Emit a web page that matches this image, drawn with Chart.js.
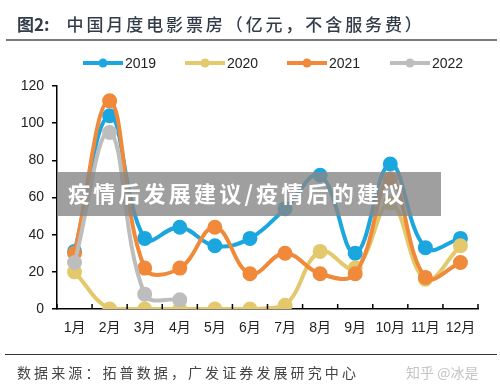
<!DOCTYPE html>
<html><head><meta charset="utf-8">
<script src="https://cdn.jsdelivr.net/npm/chart.js@4"></script>
<style>
html,body{margin:0;padding:0;background:#fff;}
#wrap{position:relative;width:500px;height:389px;overflow:hidden;font-family:"Liberation Sans","Noto Sans CJK SC",sans-serif;}
canvas{position:absolute;left:0;top:0;}
.t{position:absolute;white-space:nowrap;}
</style></head><body>
<div id="wrap">
<canvas id="c" width="500" height="389"></canvas>
<div class="t" style="left:17px;top:11px;font-size:17px;color:#333d4a;font-family:'Noto Sans CJK SC',sans-serif;"><b>图2:</b><span style="margin-left:17px;letter-spacing:2.9px;font-weight:500;">中国月度电影票房（亿元，不含服务费）</span></div>
<div style="position:absolute;left:6px;top:39px;width:491px;height:2px;background:#7a7a7a;"></div>
<div style="position:absolute;left:57px;top:172px;width:384px;height:44px;background:rgba(135,135,135,0.8);"></div>
<div class="t" style="left:68px;top:176px;font-size:22px;font-weight:bold;color:#fff;letter-spacing:3.2px;font-family:'Noto Sans CJK SC',sans-serif;">疫情后发展建议/疫情后的建议</div>
<div style="position:absolute;left:5px;top:354px;width:492px;height:1px;background:#333;"></div>
<div class="t" style="left:17px;top:362px;font-size:14px;color:#444;letter-spacing:3.1px;font-family:'Noto Sans CJK SC',sans-serif;">数据来源：拓普数据，广发证券发展研究中心</div>
<div class="t" style="left:406px;top:362px;font-size:14px;color:#c4c4c4;font-family:'Noto Sans CJK SC',sans-serif;">知乎 @冰是</div>
</div>
<script>
const months = ['1月','2月','3月','4月','5月','6月','7月','8月','9月','10月','11月','12月'];
const seriesNames = ['2019','2020','2021','2022'];
const v2019 = [31,104,38,44,34,38,54,72,30,78,33,38];
const v2020 = [20,0,0,0,0,0,2,31,22,57,16,34];
const v2021 = [30,112,22,22,44,19,30,19,19,70,17,25];
const v2022 = [25,95,8,5,null,null,null,null,null,null,null,null];
const yTicks = [0,20,40,60,80,100,120];
const colors = ['#1ba6e0','#e3c96c','#f08a3a','#bdbdbd'];
const values = [v2019,v2020,v2021,v2022];

const datasets = values.map((d,i)=>({
  label: seriesNames[i], data: d,
  borderColor: colors[i], backgroundColor: colors[i],
  borderWidth: 4, pointRadius: 5.5, pointHoverRadius: 5.5,
  tension: 0.4, order: 4-i, spanGaps:false
}));

const extras = {
  id:'extras',
  afterDraw(chart){
    const ctx = chart.ctx, xs = chart.scales.x;
    const n = months.length;
    const step = (xs.right - xs.left)/n;
    ctx.save();
    ctx.strokeStyle = '#000'; ctx.lineWidth = 1.5;
    for(let i=0;i<=n;i++){
      const x = xs.left + i*step;
      ctx.beginPath(); ctx.moveTo(x, xs.top); ctx.lineTo(x, xs.top-5); ctx.stroke();
    }
    const lx = [83,185,287,390], ly = 63;
    ctx.font = '14px "Liberation Sans", sans-serif';
    ctx.textBaseline = 'middle';
    seriesNames.forEach((s,i)=>{
      ctx.strokeStyle = colors[i]; ctx.fillStyle = colors[i]; ctx.lineWidth = 4;
      ctx.beginPath(); ctx.moveTo(lx[i], ly); ctx.lineTo(lx[i]+40, ly); ctx.stroke();
      ctx.beginPath(); ctx.arc(lx[i]+20, ly, 4.5, 0, Math.PI*2); ctx.fill();
      ctx.fillStyle = '#222';
      ctx.fillText(s, lx[i]+42, ly+1);
    });
    ctx.restore();
  }
};

new Chart(document.getElementById('c'), {
  type:'line',
  data:{labels: months, datasets},
  options:{
    responsive:false, animation:false, events:[],
    layout:{padding:{left:0,right:22,top:86,bottom:0}},
    plugins:{legend:{display:false}, tooltip:{enabled:false}},
    scales:{
      x:{
        offset:true,
        grid:{display:false, drawTicks:false},
        border:{display:true,color:'#000',width:1.5},
        ticks:{padding:11,color:'#222',minRotation:0,maxRotation:0,autoSkip:false,font:{size:14,family:'"Liberation Sans","Noto Sans CJK SC",sans-serif'}},
        afterFit(s){ s.height = 80; }
      },
      y:{
        min:0,max:120,
        afterBuildTicks(s){ s.ticks = yTicks.map(v=>({value:v})); },
        grid:{drawOnChartArea:false, drawTicks:true, tickLength:5, color:'#000', lineWidth:1.5},
        border:{display:true,color:'#000',width:1.5},
        ticks:{padding:8,color:'#222',font:{size:14,family:'"Liberation Sans",sans-serif'}},
        afterFit(s){ s.width = 57; }
      }
    }
  },
  plugins:[extras]
});
</script>
</body></html>
